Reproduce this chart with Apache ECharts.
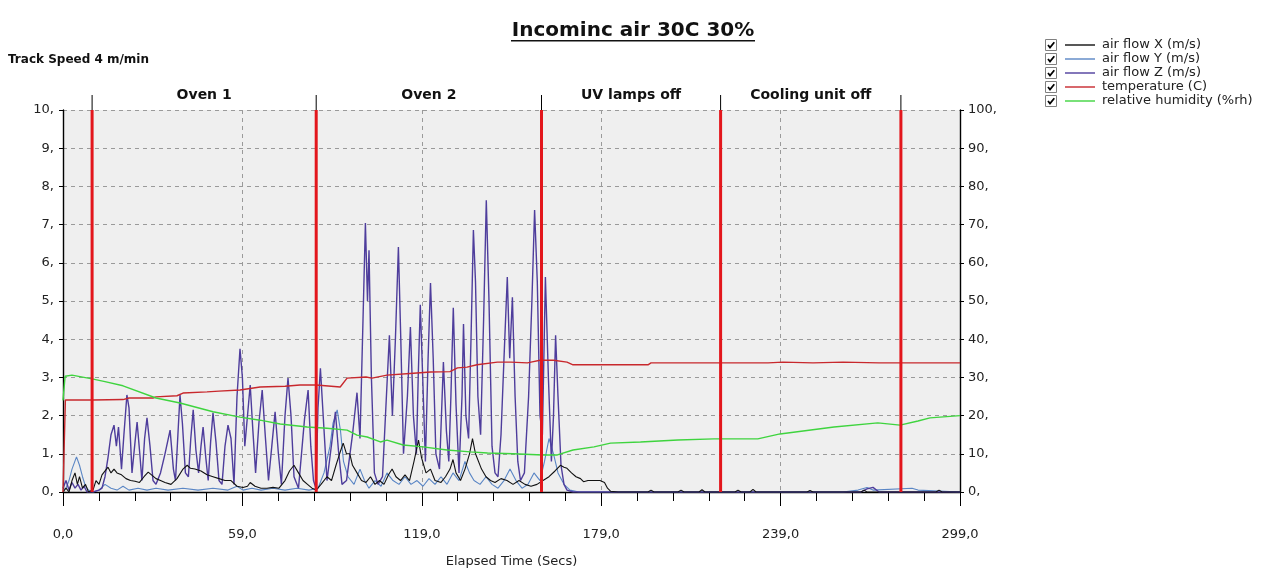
<!DOCTYPE html>
<html>
<head>
<meta charset="utf-8">
<title>Incominc air 30C 30%</title>
<script src="https://cdn.jsdelivr.net/npm/echarts@6/dist/echarts.min.js"></script>
<style>
  html, body { margin: 0; padding: 0; background: #fff; }
  #chart { width: 1266px; height: 575px; }
</style>
</head>
<body>
<div id="chart"></div>
<script>
// ---- data (time in secs) ----
var seriesNames = ['air flow X (m/s)', 'air flow Y (m/s)', 'air flow Z (m/s)', 'temperature (C)', 'relative humidity (%rh)'];

// air flow X (m/s) -- black
var flowXTime = [0,1,2,3,4,4.8,5.5,6.5,7.5,8.5,10,11,12,13,15,16,17,18,19.5,21,22.5,24,25.5,27,28.4,29.5,31,32.5,34,36,38,40,41.4,42.5,44,46,48,50,52,54,56,58,60,61.5,62.4,64,66,68,70,72,74,75.5,77,78.5,80,81.5,83,84.4,86,88,89.5,91,92.2,93.4,94.5,95.6,96.5,98,99.5,101,102.5,104,105.5,107,108.5,109.7,111,112.5,114,115.5,117,118.5,119.5,121,122.5,124,126,127.5,129,130,131,132.5,134,135.5,136.5,137.5,139.5,141,142.5,144,146,148,150,152,154,156,158,160,162,164,165.8,167,168,169.5,171,172.5,173.5,175,177,179,180.5,181.5,182.5,185,195,196,197,205,206,207,212,213,214,224,225,226,229,230,231,248,249,250,266,267,268,291,292,293,299];
var flowXVal  = [0,0.1,0,0.3,0.5,0.2,0.4,0.1,0.2,0,0.05,0.3,0.2,0.45,0.65,0.5,0.6,0.5,0.45,0.35,0.3,0.28,0.25,0.4,0.52,0.45,0.35,0.3,0.25,0.2,0.35,0.6,0.7,0.62,0.6,0.55,0.45,0.4,0.35,0.3,0.3,0.15,0.12,0.15,0.25,0.15,0.1,0.1,0.12,0.1,0.3,0.55,0.7,0.5,0.3,0.2,0.1,0.05,0.2,0.4,0.3,0.7,1.0,1.28,1.0,1.0,0.7,0.5,0.3,0.25,0.4,0.2,0.3,0.2,0.45,0.6,0.4,0.3,0.45,0.3,0.8,1.36,0.9,0.5,0.6,0.3,0.25,0.4,0.6,0.85,0.5,0.3,0.6,1.0,1.4,1.0,0.6,0.4,0.3,0.25,0.35,0.3,0.2,0.3,0.2,0.15,0.2,0.3,0.4,0.55,0.7,0.65,0.62,0.5,0.4,0.35,0.27,0.3,0.3,0.3,0.25,0.1,0.02,0,0,0.05,0,0,0.05,0,0,0.06,0,0,0.05,0,0,0.07,0,0,0.04,0,0,0.05,0,0,0.05,0,0];

// air flow Y (m/s) -- steel blue
var flowYTime = [0,1,2,3,4.5,5.5,6.5,7.5,8.5,10,12,14,16,18,20,22,25,28,31,35,40,45,50,55,58,60,63,66,70,74,78,82,85,87,89,90,91.4,92.5,93.5,95,97,99,100.5,102,104,106,108,110,112,114,116,118,120,122,124,126,128,130,132,134,135.5,137,139,141,143,145,147,149,151,153,155,157,159,160.5,162,163.5,165,167,169,172,260,265,268,270,283,285,299];
var flowYVal  = [0.05,0.1,0.3,0.6,0.92,0.7,0.4,0.15,0.05,0,0.05,0.2,0.1,0.05,0.15,0.05,0.1,0.05,0.1,0.05,0.1,0.05,0.1,0.05,0.15,0.05,0.1,0.05,0.1,0.05,0.1,0.05,0.1,0.5,1.2,1.8,2.15,1.6,0.8,0.4,0.2,0.6,0.3,0.1,0.3,0.15,0.5,0.3,0.2,0.4,0.2,0.3,0.15,0.35,0.2,0.4,0.2,0.5,0.3,0.8,0.5,0.3,0.2,0.4,0.2,0.1,0.3,0.6,0.3,0.1,0.2,0.5,0.3,0.8,1.4,1.0,0.5,0.2,0.05,0,0,0.05,0.12,0.05,0.1,0.05,0];

// air flow Z (m/s) -- slate blue
var flowZTime = [0,1,2,3,4,5,6,7,8,10,12,13,14,15,16,17,17.8,18.5,19.5,20.3,21.3,22,23,24,24.7,25.6,26.3,27.2,28,29,30,31,32.5,34,35.7,36.8,37.5,38.3,39,39.8,40.8,41.8,42.6,43.4,44.3,45.2,46,46.7,47.6,48.4,49.2,50,51,52,53,54,55,56,57,58,59,59.8,60.6,61.5,62.4,63.3,64.2,65.3,66.4,67.4,68.5,69.6,70.7,71.8,72.8,74,75,76,77,78.5,80.5,81.7,82.6,83.5,84.3,85,85.8,86.8,88,89.6,90.8,91.8,93,94.5,96.5,98,99,100,100.8,101.5,102,102.8,103.8,105,106.5,107.8,108.8,109.8,110.8,111.8,112.6,113.5,114.8,115.8,116.8,117.8,118.4,119.1,119.9,120.8,121.7,122.5,123.4,124.3,125.5,126.8,127.8,128.6,129.3,130.1,131,132,133,133.5,134.3,135.2,136,136.8,137.5,138.3,139.2,140.2,141.1,142,143,144,145,146,147,148.1,148.9,149.8,150.7,151.6,152.5,153.8,155.2,156.3,157.2,158.1,159,159.8,160.8,161.8,162.8,163.5,164.2,165,166,167,168,170,266,268,270,272,299];
var flowZVal  = [0.1,0.3,0.05,0.25,0.1,0.2,0.05,0.15,0,0,0.05,0.1,0.4,0.9,1.5,1.75,1.2,1.7,0.6,1.5,2.54,2.2,0.5,1.3,1.83,1.0,0.3,1.4,1.94,1.2,0.3,0.2,0.5,1.0,1.62,0.6,0.3,1.5,2.54,1.8,0.5,0.4,1.4,2.15,1.1,0.5,1.2,1.7,0.9,0.3,1.3,2.07,1.3,0.3,0.2,1.2,1.75,1.4,0.2,2.5,3.75,3.0,1.2,2.0,2.8,1.6,0.5,1.8,2.67,1.5,0.3,1.2,2.1,1.0,0.2,2.0,2.98,2.0,0.4,0.1,1.9,2.67,1.2,0.3,0.1,2.2,3.24,1.9,0.3,1.3,2.1,1.1,0.2,0.3,1.5,2.6,1.4,4.5,7.04,5.0,6.33,3.0,0.5,0.2,0.4,2.5,4.1,2.0,4.0,6.41,4.0,1.0,2.5,4.32,2.0,1.0,3.0,4.9,3.0,0.8,3.5,5.47,3.5,1.0,0.6,3.4,1.6,0.8,2.5,4.82,2.3,0.5,2.5,4.4,2.0,1.4,4.0,6.86,5.5,2.5,1.5,4.5,7.64,5.0,1.2,0.5,0.4,1.5,3.5,5.63,3.5,5.1,2.5,0.8,0.3,0.5,2.5,5.0,7.38,5.5,2.0,1.5,5.63,3.0,0.8,2.0,4.1,2.5,0.7,0.2,0.05,0,0,0.08,0.12,0,0];

// temperature (C) -- right axis
var tempTime = [0,0.8,10,20,22,30,31,38,40,48,52,59,65.7,74,79,84.4,92.4,94.7,101,103,108,116.8,122.5,129,131.5,134.7,138,144.8,149.3,154.8,156,159,163.5,168,170,195,196,235,240,250,260,272,299];
var tempVal  = [0,24.1,24.1,24.2,24.6,24.6,24.9,25.2,25.9,26.2,26.4,26.7,27.5,27.7,28,28,27.5,29.8,30.1,29.8,30.6,31.1,31.4,31.5,32.5,32.7,33.3,34,34,33.8,34,34.5,34.5,34,33.3,33.3,33.8,33.8,34,33.8,34,33.8,33.8];

// relative humidity (%rh) -- right axis
var rhTime = [0,0.7,3,9.7,14,20,31,39,50,59,65.7,72.4,81.4,88,94.7,98,101.4,105.8,108,113.4,120,128,135.8,141.5,150,160,164.8,170,177,182.5,192.5,205,217,231.6,239,257,271.6,279,285,289,299];
var rhVal  = [24,30.3,30.6,29.6,28.9,27.8,24.6,23.3,21,19.6,18.8,17.8,17,16.7,16.2,14.9,14.4,13.1,13.6,12.3,11.8,11,10.5,10.2,10,9.7,9.7,11,11.8,12.8,13.1,13.6,13.9,13.9,15.2,17,18.1,17.5,18.6,19.4,20];

// section boundaries and names
var sectionTimes = [9.7, 84.4, 159.5, 219.2, 279.3];
var sectionNames = ['Oven 1', 'Oven 2', 'UV lamps off', 'Cooling unit off'];

var FONT = "'DejaVu Sans', sans-serif";

function pairs(t, v) {
  return t.map(function (x, i) { return [x, v[i]]; });
}

var myChart = echarts.init(document.getElementById('chart'));
var option = {
  backgroundColor: '#fff',
  animation: false,
  textStyle: { fontFamily: FONT },
  title: [{
    text: 'Incominc air 30C 30%',
    left: 'center',
    top: 16,
    textStyle: { fontSize: 20, fontWeight: 'bold', color: '#111', fontFamily: FONT }
  }, {
    text: 'Track Speed 4 m/min',
    left: 3,
    top: 49,
    textStyle: { fontSize: 12, fontWeight: 'bold', color: '#111', fontFamily: FONT }
  }],
  graphic: [
    // title underline
    { type: 'rect', left: 'center', top: 40, shape: { width: 244, height: 1.6 }, style: { fill: '#111' } }
  ].concat(seriesNames.map(function (n, i) {
    // legend check boxes
    return {
      type: 'group', left: 1045, top: 39 + i * 14,
      children: [
        { type: 'rect', shape: { x: 0, y: 0, width: 11, height: 11 }, style: { fill: '#fff', stroke: '#808080', lineWidth: 1 } },
        { type: 'polyline', shape: { points: [[2.5, 5.5], [4.5, 8], [8.8, 2.8]] }, style: { stroke: '#000', lineWidth: 1.8, fill: null } }
      ]
    };
  })),
  legend: {
    data: seriesNames,
    orient: 'vertical',
    left: 1065,
    top: 38,
    padding: 0,
    itemWidth: 30,
    itemHeight: 1.4,
    itemGap: 0,
    icon: 'rect',
    selectedMode: false,
    textStyle: { fontSize: 13, color: '#222', lineHeight: 14, fontFamily: FONT, padding: [0, 0, 0, 2] }
  },
  grid: {
    left: 63, right: 306, top: 110, bottom: 83,
    show: true, backgroundColor: '#efefef', borderWidth: 0
  },
  xAxis: {
    type: 'value',
    min: 0, max: 299, interval: 59.8,
    name: 'Elapsed Time (Secs)',
    nameLocation: 'middle',
    nameGap: 63,
    nameTextStyle: { fontSize: 13, color: '#222', fontFamily: FONT },
    axisLine: { lineStyle: { color: '#000', width: 1.4 } },
    axisTick: { length: 14, lineStyle: { color: '#000' } },
    minorTick: { show: true, splitNumber: 5, length: 9, lineStyle: { color: '#000' } },
    axisLabel: {
      margin: 36, fontSize: 13, color: '#222', fontFamily: FONT,
      formatter: function (v) { return Math.floor(Math.round(v * 100) / 100) + ',0'; }
    },
    splitLine: { show: true, lineStyle: { color: '#9a9a9a', type: [4, 4] } }
  },
  yAxis: [{
    type: 'value', min: 0, max: 10, interval: 1, position: 'left',
    axisLine: { show: true, lineStyle: { color: '#000', width: 1.4 } },
    axisTick: { show: true, length: 4, lineStyle: { color: '#000' } },
    axisLabel: { margin: 9, fontSize: 13, color: '#222', fontFamily: FONT, formatter: function (v) { return v + ','; } },
    splitLine: { show: true, lineStyle: { color: '#9a9a9a', type: [4, 4] } }
  }, {
    type: 'value', min: 0, max: 100, interval: 10, position: 'right',
    axisLine: { show: true, lineStyle: { color: '#000', width: 1.4 } },
    axisTick: { show: true, length: 4, lineStyle: { color: '#000' } },
    axisLabel: { margin: 8, fontSize: 13, color: '#222', fontFamily: FONT, formatter: function (v) { return v + ','; } },
    splitLine: { show: false }
  }],
  series: [
    { name: seriesNames[0], type: 'line', color: '#111', showSymbol: false, lineStyle: { width: 1.1 }, data: pairs(flowXTime, flowXVal), z: 3 },
    { name: seriesNames[1], type: 'line', color: '#5a86c5', showSymbol: false, lineStyle: { width: 1.1 }, data: pairs(flowYTime, flowYVal), z: 2 },
    { name: seriesNames[2], type: 'line', color: '#4e3d9c', showSymbol: false, lineStyle: { width: 1.4 }, data: pairs(flowZTime, flowZVal), z: 2 },
    { name: seriesNames[3], type: 'line', color: '#c8282d', yAxisIndex: 1, showSymbol: false, lineStyle: { width: 1.4 }, data: pairs(tempTime, tempVal), z: 3 },
    { name: seriesNames[4], type: 'line', color: '#3fd43f', yAxisIndex: 1, showSymbol: false, lineStyle: { width: 1.4 }, data: pairs(rhTime, rhVal), z: 3 },
    {
      // section boundaries: red line inside the plot, black tick above it
      type: 'custom', z: 5, silent: true,
      data: sectionTimes.map(function (t) { return [t]; }),
      renderItem: function (params, api) {
        var top = api.coord([api.value(0), 10]);
        var bot = api.coord([api.value(0), 0]);
        return {
          type: 'group',
          children: [
            { type: 'line', shape: { x1: top[0], y1: top[1] - 15, x2: top[0], y2: top[1] }, style: { stroke: '#000', lineWidth: 1 } },
            { type: 'line', shape: { x1: top[0], y1: top[1], x2: bot[0], y2: bot[1] }, style: { stroke: '#e3161c', lineWidth: 3 } }
          ]
        };
      }
    },
    {
      // section labels
      type: 'custom', z: 5, silent: true,
      data: sectionNames.map(function (n, i) { return [sectionTimes[i], sectionTimes[i + 1]]; }),
      renderItem: function (params, api) {
        var a = api.coord([api.value(0), 10]);
        var b = api.coord([api.value(1), 10]);
        return {
          type: 'text',
          style: {
            x: (a[0] + b[0]) / 2, y: a[1] - 15,
            text: sectionNames[params.dataIndex],
            textAlign: 'center', textVerticalAlign: 'middle',
            font: 'bold 14px ' + FONT, fill: '#111'
          }
        };
      }
    }
  ]
};
myChart.setOption(option);
</script>
</body>
</html>
